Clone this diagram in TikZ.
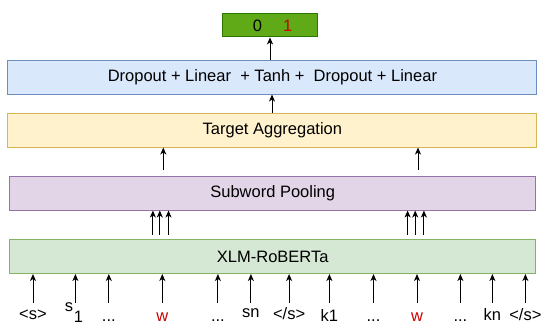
\documentclass[tikz,border=0pt]{standalone}
\usepackage{fontspec}
\setmainfont{Liberation Sans}
\usetikzlibrary{arrows.meta}
\definecolor{outfill}{HTML}{60A917}
\definecolor{outdraw}{HTML}{2D7600}
\definecolor{bluefill}{HTML}{DAE8FC}
\definecolor{bluedraw}{HTML}{6C8EBF}
\definecolor{yelfill}{HTML}{FFF2CC}
\definecolor{yeldraw}{HTML}{D6B656}
\definecolor{purfill}{HTML}{E1D5E7}
\definecolor{purdraw}{HTML}{9673A6}
\definecolor{grnfill}{HTML}{D5E8D4}
\definecolor{grndraw}{HTML}{82B366}
\definecolor{wred}{HTML}{CC0000}
\begin{document}
\begin{tikzpicture}[x=1pt,y=-1pt,
  font=\fontsize{16.5}{19}\selectfont,
  layer/.style={draw, line width=1pt, inner sep=0pt, minimum width=529pt, minimum height=34pt},
  arr/.style={-{Stealth[length=7pt,width=6pt,inset=2pt]}, line width=1pt},
  tok/.style={anchor=base, inner sep=0pt, text depth=0pt}]
\useasboundingbox (0,0) rectangle (545,325);

\node[draw=outdraw, fill=outfill, line width=1pt, minimum width=95pt, minimum height=23pt, inner sep=0pt] (out) at (269.5,25.4) {\hspace{6pt}0\hspace{21pt}\textcolor{wred}{1}};
\node[layer, draw=bluedraw, fill=bluefill] (cls) at (272.4,77) {Dropout + Linear\ \ + Tanh +\ \ Dropout + Linear};
\node[layer, draw=yeldraw, fill=yelfill] (agg) at (272.4,130) {Target Aggregation};
\node[layer, draw=purdraw, fill=purfill, minimum width=526pt] (pool) at (272.7,193) {Subword Pooling};
\node[layer, draw=grndraw, fill=grnfill, minimum width=526pt] (xlm) at (272.7,256.5) {XLM-RoBERTa};

% classifier -> output
\coordinate (c1) at (270,60);
\draw[arr] (cls.north -| c1) -- (out.south -| c1);
% aggregation -> classifier
\coordinate (c2) at (272,113);
\draw[arr] (agg.north -| c2) -- (cls.south -| c2);
% pooling -> aggregation
\foreach \x [count=\i] in {163.3,418} {
  \coordinate (p\i) at (\x,169.5);
  \draw[arr] (p\i) -- (agg.south -| p\i);
}
% xlm -> pooling (subwords)
\foreach \x [count=\i] in {152.9,159.8,168.5,407.6,415.2,423.9} {
  \coordinate (s\i) at (\x,234.7);
  \draw[arr] (s\i) -- (pool.south -| s\i);
}
% tokens
\node[tok] (t1) at (33,319) {<s>};
\node[tok] (t2a) at (69,311) {s};
\node[tok] (t2b) at (78.5,322.5) {1};
\node[tok] (t3) at (108.8,321.5) {...};
\node[tok, text=wred] (t4) at (162.3,321.5) {w};
\node[tok] (t5) at (217.9,321.5) {...};
\node[tok] (t6) at (250.9,317) {sn};
\node[tok] (t7) at (289.1,319.5) {</s>};
\node[tok] (t8) at (329.4,321.5) {k1};
\node[tok] (t9) at (373.5,321.5) {...};
\node[tok, text=wred] (t10) at (417,321.5) {w};
\node[tok] (t11) at (460.4,321.5) {...};
\node[tok] (t12) at (492.4,320) {kn};
\node[tok] (t13) at (525.4,320) {</s>};
\foreach \x [count=\i] in {33,75.4,108.8,162.3,217.9,250.9,289.1,329.4,373.5,417,460.4,492.4,525.4} {
  \coordinate (b\i) at (\x,302.5);
  \draw[arr] (b\i) -- (xlm.south -| b\i) ;
}
\end{tikzpicture}
\end{document}
